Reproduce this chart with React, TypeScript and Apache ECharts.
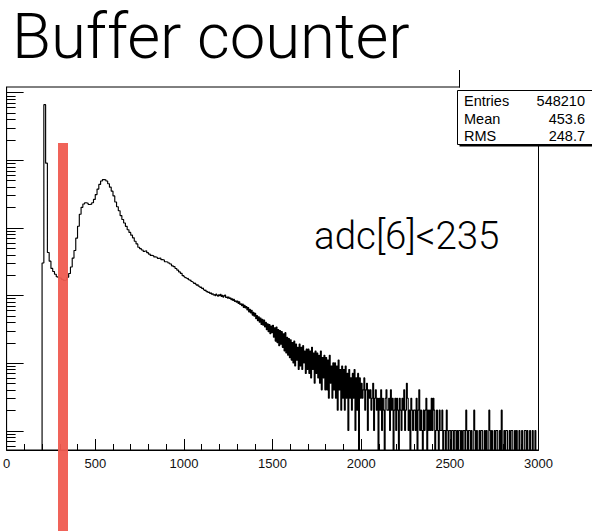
import React, { useEffect, useRef } from "react";
import * as echarts from "echarts";

// ---------------- data ----------------
const X_MIN = 0;
const X_MAX = 3000;
const X_INTERVAL = 500;

// coarse part: 10 ADC per bin
const COARSE_BIN = 10;
// bins 0..490
const counts0to490 = [
  0, 0, 0, 0, 0, 0, 0, 0, 0, 0,
  0, 0, 0, 0, 0, 0, 0, 0, 0, 0,
  300, 66000, 9000, 430, 320, 250, 225, 205, 188, 182,
  178, 172, 166, 170, 185, 210, 262, 355, 460, 700,
  1050, 1580, 2000, 2240, 2340, 2290, 2200, 2230, 2340, 2620,
];
// bins 500..990
const counts500to990 = [
  3090, 3720, 4370, 4900, 5130, 5100, 4900, 4470, 3980, 3470,
  2950, 2400, 2040, 1780, 1510, 1320, 1175, 1047, 933, 851,
  776, 708, 631, 575, 513, 490, 468, 447, 457, 427,
  407, 389, 384, 370, 366, 352, 356, 337, 333, 314,
  311, 300, 290, 273, 265, 249, 236, 222, 211, 195,
];

// fine part: 5 ADC per bin
const FINE_BIN = 5;
// bins 1000..1495
const counts1000to1495 = [
  188, 183, 180, 176, 178, 170, 166, 168, 160, 158,
  155, 150, 152, 146, 141, 144, 137, 135, 131, 133,
  126, 128, 121, 118, 120, 113, 115, 110, 112, 107,
  109, 104, 106, 101, 103, 99, 104, 100, 97, 102,
  99, 103, 96, 100, 94, 98, 101, 93, 95, 91,
  94, 90, 92, 86, 89, 84, 87, 81, 83, 79,
  82, 76, 80, 73, 75, 70, 74, 66, 71, 65,
  68, 61, 66, 57, 62, 55, 60, 51, 56, 49,
  54, 45, 50, 42, 48, 40, 46, 37, 44, 36,
  43, 34, 40, 31, 38, 29, 37, 27, 35, 28,
];
// bins 1500..1995
const counts1500to1995 = [
  36, 24, 33, 21, 34, 20, 31, 18, 30, 19,
  29, 17, 27, 15, 28, 14, 24, 13, 23, 12,
  22, 11, 20, 10, 21, 9, 19, 11, 17, 8,
  19, 9, 17, 8, 18, 10, 15, 7, 16, 8,
  16, 7, 15, 6, 17, 8, 14, 5, 15, 7,
  14, 6, 13, 5, 15, 4, 12, 6, 13, 4,
  12, 4, 11, 3, 13, 5, 9, 3, 10, 4,
  10, 3, 9, 2, 11, 4, 8, 2, 9, 3,
  8, 2, 9, 3, 7, 1, 8, 3, 6, 2,
  7, 3, 8, 1, 6, 2, 7, 0, 6, 3,
];
// bins 2000..2495
const counts2000to2495 = [
  5, 3, 4, 6, 2, 4, 5, 1, 4, 3,
  4, 2, 3, 5, 1, 3, 4, 2, 3, 0,
  3, 2, 4, 1, 3, 2, 0, 3, 4, 2,
  2, 3, 1, 4, 2, 3, 0, 2, 3, 1,
  3, 2, 0, 3, 2, 1, 3, 2, 4, 1,
  2, 5, 3, 1, 2, 0, 3, 2, 1, 2,
  2, 1, 3, 0, 2, 4, 1, 2, 1, 0,
  2, 1, 2, 3, 0, 2, 1, 2, 1, 3,
  1, 3, 2, 0, 1, 2, 1, 0, 2, 1,
  1, 2, 0, 1, 1, 0, 2, 1, 0, 1,
];
// bins 2500..2995
const counts2500to2995 = [
  1, 0, 1, 1, 0, 1, 1, 0, 1, 0,
  1, 1, 0, 1, 0, 1, 1, 0, 2, 1,
  0, 1, 1, 0, 1, 0, 0, 2, 1, 0,
  1, 0, 0, 1, 0, 1, 1, 0, 0, 1,
  0, 1, 0, 0, 2, 1, 0, 1, 0, 0,
  1, 0, 1, 1, 0, 0, 1, 0, 2, 0,
  0, 1, 0, 1, 1, 0, 0, 1, 0, 1,
  1, 0, 0, 1, 0, 1, 0, 0, 1, 0,
  0, 1, 0, 0, 1, 1, 0, 1, 0, 0,
  1, 0, 0, 1, 0, 0, 1, 0, 0, 0,
];

const Y_MIN = 0.515;
const Y_MAX = 120500;
const Y_DECADES = [0.1, 1, 10, 100, 1000, 10000, 100000];
const Y_SUBS = [1, 2, 3, 4, 5, 6, 7, 8, 9];

const TITLE = "Buffer counter";
const CUT_LABEL = "adc[6]<235";
const STAT_NAMES = ["Entries", "Mean", "RMS"];
const STAT_VALUES = ["548210", "453.6", "248.7"];

// ---------------- build histogram points ----------------
const ZERO_FLOOR = 0.05; // empty bins drop below the axis (clipped)
const histPoints: [number, number][] = [];
const addSegment = (start: number, width: number, counts: number[]) => {
  counts.forEach((c, i) => histPoints.push([start + i * width, c > 0 ? c : ZERO_FLOOR]));
};
addSegment(0, COARSE_BIN, counts0to490);
addSegment(500, COARSE_BIN, counts500to990);
addSegment(1000, FINE_BIN, counts1000to1495);
addSegment(1500, FINE_BIN, counts1500to1995);
addSegment(2000, FINE_BIN, counts2000to2495);
addSegment(2500, FINE_BIN, counts2500to2995);
histPoints.push([X_MAX, histPoints[histPoints.length - 1][1]]);

const yTickValues: number[] = [];
Y_DECADES.forEach((d) =>
  Y_SUBS.forEach((s) => {
    const v = d * s;
    if (v >= Y_MIN && v <= Y_MAX) yTickValues.push(v);
  })
);

const FONT_ROOT = "'Liberation Sans', Arial, Helvetica, sans-serif";
const FONT_LIGHT = "Roboto, 'Helvetica Neue', sans-serif";

export default function App() {
  const ref = useRef<HTMLDivElement>(null);

  useEffect(() => {
    if (!ref.current) return;
    const chart = echarts.init(ref.current, undefined, { renderer: "svg" });

    const statRowY = [100.5, 118.5, 136];

    const option: any = {
      animation: false,
      backgroundColor: "#fff",
      grid: {
        left: 3.5,
        top: 87,
        width: 535,
        height: 363,
        show: true,
        borderColor: "#000",
        borderWidth: 1,
        backgroundColor: "transparent",
      },
      xAxis: {
        type: "value",
        min: X_MIN,
        max: X_MAX,
        interval: X_INTERVAL,
        axisLine: { show: true, lineStyle: { color: "#000", width: 1 } },
        axisTick: { show: true, inside: true, length: 11, lineStyle: { color: "#000" } },
        minorTick: { show: true, splitNumber: 5, length: 6, lineStyle: { color: "#000" } },
        axisLabel: {
          show: true,
          fontSize: 13,
          color: "#111",
          margin: 7,
          fontFamily: FONT_ROOT,
          showMinLabel: true,
          showMaxLabel: true,
          formatter: (v: number) => String(v),
        },
        splitLine: { show: false },
        minorSplitLine: { show: false },
      },
      yAxis: {
        type: "log",
        logBase: 10,
        min: Y_MIN,
        max: Y_MAX,
        axisLine: { show: true, lineStyle: { color: "#000", width: 1 } },
        axisTick: { show: false },
        axisLabel: { show: false },
        splitLine: { show: false },
      },
      series: [
        {
          type: "line",
          step: "end",
          data: histPoints,
          symbol: "none",
          showSymbol: false,
          clip: true,
          silent: true,
          lineStyle: { color: "#000", width: 1.15 },
          z: 3,
        },
        {
          type: "custom",
          coordinateSystem: "cartesian2d",
          data: yTickValues.map((v) => [X_MIN, v]),
          silent: true,
          clip: false,
          z: 4,
          renderItem: (params: any, api: any) => {
            const v = api.value(1);
            const p = api.coord([X_MIN, v]);
            const lg = Math.log10(v);
            const major = Math.abs(lg - Math.round(lg)) < 1e-6;
            const len = major ? 17 : 9;
            const y = Math.round(p[1]) + 0.5;
            return {
              type: "line",
              shape: { x1: p[0], y1: y, x2: p[0] + len, y2: y },
              style: { stroke: "#000", lineWidth: 1 },
            };
          },
        },
      ],
      graphic: [
        {
          type: "text",
          x: 12,
          y: 36.5,
          z: 100,
          style: {
            text: TITLE,
            fontSize: 63.5,
            fontWeight: 300,
            fontFamily: FONT_LIGHT,
            fill: "#000",
            verticalAlign: "middle",
          },
        },
        {
          type: "text",
          x: 314,
          y: 235,
          z: 100,
          style: {
            text: CUT_LABEL,
            fontSize: 38.5,
            fontWeight: 300,
            fontFamily: FONT_LIGHT,
            fill: "#000",
            verticalAlign: "middle",
          },
        },
        {
          type: "rect",
          z: 90,
          shape: { x: 460, y: 80, width: 140, height: 11 },
          style: { fill: "#fff" },
        },
        {
          type: "line",
          z: 91,
          shape: { x1: 459.5, y1: 70, x2: 459.5, y2: 87.5 },
          style: { stroke: "#000", lineWidth: 1 },
        },
        {
          type: "rect",
          z: 92,
          shape: { x: 459.5, y: 92.5, width: 140, height: 54 },
          style: { fill: "#000" },
        },
        {
          type: "rect",
          z: 93,
          shape: { x: 457.5, y: 90.5, width: 140, height: 54 },
          style: { fill: "#fff", stroke: "#000", lineWidth: 1 },
        },
        ...STAT_NAMES.map((name, i) => ({
          type: "text",
          z: 94,
          x: 464,
          y: statRowY[i],
          style: {
            text: name,
            fontSize: 14.5,
            fontFamily: FONT_ROOT,
            fill: "#000",
            verticalAlign: "middle",
            align: "left",
          },
        })),
        ...STAT_VALUES.map((val, i) => ({
          type: "text",
          z: 94,
          x: 585,
          y: statRowY[i],
          style: {
            text: val,
            fontSize: 14.5,
            fontFamily: FONT_ROOT,
            fill: "#000",
            verticalAlign: "middle",
            align: "right",
          },
        })),
        {
          type: "rect",
          z: 95,
          shape: { x: 58, y: 143, width: 10, height: 400 },
          style: { fill: "#ef5b50", opacity: 0.95 },
        },
      ],
    };

    chart.setOption(option);
    return () => chart.dispose();
  }, []);

  return (
    <div
      ref={ref}
      style={{ position: "fixed", left: 0, top: 0, width: 592, height: 531, background: "#fff" }}
    />
  );
}
